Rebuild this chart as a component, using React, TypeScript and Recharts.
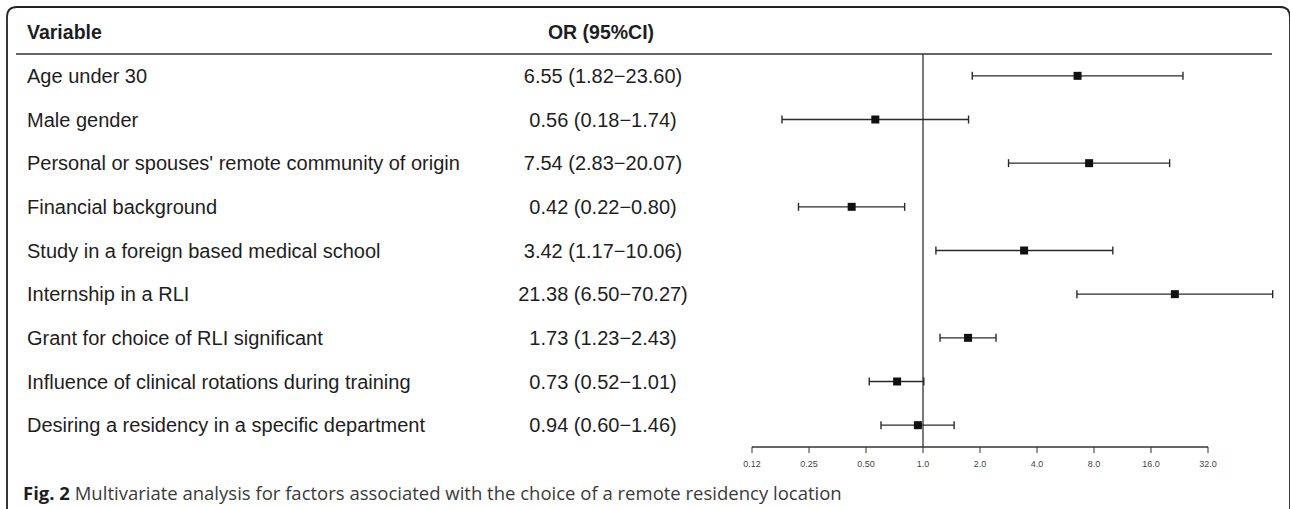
import React from "react";
import { ScatterChart, Scatter, XAxis, YAxis, ErrorBar, ReferenceLine } from "recharts";

const variables = [
  "Age under 30",
  "Male gender",
  "Personal or spouses' remote community of origin",
  "Financial background",
  "Study in a foreign based medical school",
  "Internship in a RLI",
  "Grant for choice of RLI significant",
  "Influence of clinical rotations during training",
  "Desiring a residency in a specific department",
];
const oddsRatios = [6.55, 0.56, 7.54, 0.42, 3.42, 21.38, 1.73, 0.73, 0.94];
const ciLow = [1.82, 0.18, 2.83, 0.22, 1.17, 6.5, 1.23, 0.52, 0.6];
const ciHigh = [23.6, 1.74, 20.07, 0.8, 10.06, 70.27, 2.43, 1.01, 1.46];

const tickValues = [0.125, 0.25, 0.5, 1, 2, 4, 8, 16, 32];
const tickLabels = ["0.12", "0.25", "0.50", "1.0", "2.0", "4.0", "8.0", "16.0", "32.0"];

const W = 1290;
const H = 509;
const FONT = "'Liberation Sans', Arial, Helvetica, sans-serif";
const ROW_FS = 20;

// one doubling of OR = 57px, axis starts at 0.125
const plotLeft = 752;
const domainMax = 72;
const plotRight = plotLeft + 57 * Math.log2(domainMax / 0.125);

const rows = variables.map((_, i) => i);
const data = variables.map((v, i) => ({
  row: i,
  or: oddsRatios[i],
  err: [oddsRatios[i] - ciLow[i], ciHigh[i] - oddsRatios[i]],
}));

const fmt = (i: number) =>
  `${oddsRatios[i].toFixed(2)} (${ciLow[i].toFixed(2)}\u2212${ciHigh[i].toFixed(2)})`;

const RowTick = (props: any) => {
  const { y, payload } = props;
  const i = payload.value;
  return (
    <g>
      <text x={27} y={y} dy="0.35em" fontSize={ROW_FS} fontFamily={FONT} fill="#1e1e1e">
        {variables[i]}
      </text>
      <text x={603} y={y} dy="0.35em" textAnchor="middle" fontSize={ROW_FS} fontFamily={FONT} fill="#1e1e1e">
        {fmt(i)}
      </text>
    </g>
  );
};

const SquareMarker = (props: any) => {
  const { cx, cy } = props;
  return <rect x={cx - 4} y={cy - 4} width={8} height={8} fill="#111" />;
};

export default function App() {
  return (
    <div style={{ position: "absolute", left: 0, top: 0, width: W, height: H, overflow: "hidden", background: "#fff" }}>
      <ScatterChart
        width={W}
        height={H}
        margin={{ top: 54, right: W - plotRight, bottom: 30, left: 0 }}
      >
        <XAxis
          type="number"
          dataKey="or"
          scale="log"
          domain={[0.125, domainMax]}
          ticks={tickValues}
          interval={0}
          tickFormatter={(v: number) => tickLabels[tickValues.indexOf(v)]}
          axisLine={false}
          tickSize={6}
          tickMargin={8}
          stroke="#333"
          tick={{ fontSize: 9, fill: "#444", fontFamily: FONT }}
          height={32}
        />
        <YAxis
          type="number"
          dataKey="row"
          reversed
          domain={[-0.5, 8.5]}
          ticks={rows}
          interval={0}
          width={plotLeft}
          axisLine={false}
          tickLine={false}
          tick={(p: any) => <RowTick {...p} />}
        />
        <ReferenceLine x={1} stroke="#333" strokeWidth={1.3} />
        <ReferenceLine
          segment={[{ x: 0.125, y: 8.5 }, { x: 32, y: 8.5 }]}
          stroke="#333"
          strokeWidth={1.3}
        />
        <Scatter data={data} shape={<SquareMarker />} isAnimationActive={false}>
          <ErrorBar dataKey="err" direction="x" width={4} stroke="#2a2a2a" strokeWidth={1.4} isAnimationActive={false} />
        </Scatter>
      </ScatterChart>

      <svg width={W} height={H} style={{ position: "absolute", left: 0, top: 0, pointerEvents: "none" }}>
        <path d="M7,509 L7,17 Q7,7 17,7 L1280,7 Q1290,7 1290,17 L1290,509" fill="none" stroke="#222" strokeWidth={1.8} />
        <line x1={16} x2={1272} y1={54} y2={54} stroke="#333" strokeWidth={1.5} />
        <text x={27} y={32} dy="0.35em" fontSize={19.5} fontWeight="bold" fontFamily={FONT} fill="#1e1e1e">
          Variable
        </text>
        <text x={601} y={32} dy="0.35em" textAnchor="middle" fontSize={19.5} fontWeight="bold" fontFamily={FONT} fill="#1e1e1e">
          OR (95%CI)
        </text>
      </svg>

      <div
        style={{
          position: "absolute",
          left: 23,
          top: 480,
          fontFamily: "'Open Sans', sans-serif",
          fontSize: 18.5,
          color: "#3a3a3a",
          whiteSpace: "nowrap",
          lineHeight: "26px",
        }}
      >
        <span style={{ fontWeight: 700, color: "#1e1e1e" }}>Fig. 2</span> Multivariate analysis for factors associated with the choice of a remote residency location
      </div>
    </div>
  );
}
